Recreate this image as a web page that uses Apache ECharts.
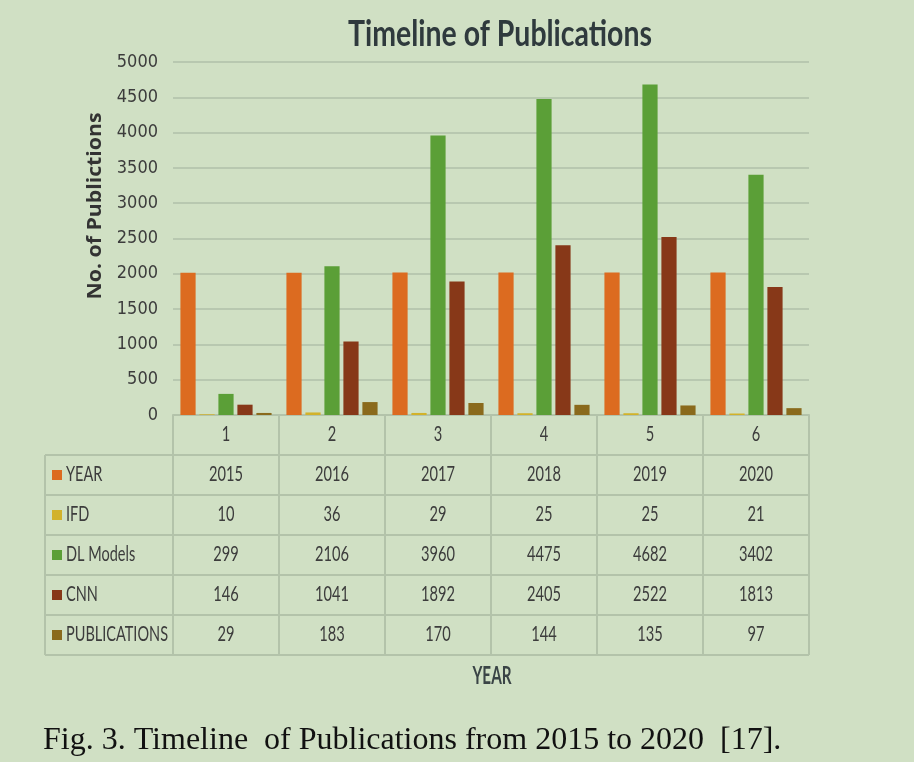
<!DOCTYPE html>
<html>
<head>
<meta charset="utf-8">
<script src="https://cdn.jsdelivr.net/npm/echarts@6/dist/echarts.min.js"></script>
<style>
  html, body { margin: 0; padding: 0; background: #d0e0c4; }
  #chart { width: 914px; height: 762px; }
</style>
</head>
<body>
<div id="chart"></div>
<script>
// data
var categories = ['1', '2', '3', '4', '5', '6'];
var seriesNames = ['YEAR', 'IFD', 'DL Models', 'CNN', 'PUBLICATIONS'];
var yearVals = [2015, 2016, 2017, 2018, 2019, 2020];
var ifdVals = [10, 36, 29, 25, 25, 21];
var dlVals = [299, 2106, 3960, 4475, 4682, 3402];
var cnnVals = [146, 1041, 1892, 2405, 2522, 1813];
var pubVals = [29, 183, 170, 144, 135, 97];
var yTicks = [0, 500, 1000, 1500, 2000, 2500, 3000, 3500, 4000, 4500, 5000];

var allVals = [yearVals, ifdVals, dlVals, cnnVals, pubVals];
var colors = ['#dc6b20', '#d2b22a', '#5b9f37', '#873818', '#8a6a1c'];

var gridLeft = 173, gridTop = 62, gridW = 636, gridH = 353;
var rowH = 40;
var lineCol = '#b3c3aa';
var txtCol = '#3c3c3c';

// the figure uses a narrow font, so squeeze text to the measured widths
var ctx = document.createElement('canvas').getContext('2d');
function squeeze(text, font, w) {
    ctx.font = font;
    return w / ctx.measureText(text).width;
}
var cellFont = '22px Lato, sans-serif';
var cellScale = squeeze('2015', cellFont, 34);
var headFont = '21px Lato, sans-serif';
var headScale = squeeze('PUBLICATIONS', headFont, 102);

var myChart = echarts.init(document.getElementById('chart'));

var series = [];
for (var s = 0; s < seriesNames.length; s++) {
    series.push({
        name: seriesNames[s],
        type: 'bar',
        data: allVals[s],
        barGap: '25%',
        barCategoryGap: '14%',
        itemStyle: { color: colors[s] }
    });
}

myChart.setOption({
    backgroundColor: '#d0e0c4',
    animation: false,
    grid: { left: gridLeft, top: gridTop, width: gridW, height: gridH },
    xAxis: {
        type: 'category',
        data: categories,
        axisLine: { lineStyle: { color: lineCol, width: 2 } },
        axisTick: { show: true, length: rowH * 6, lineStyle: { color: lineCol, width: 2 } },
        axisLabel: { show: false }
    },
    yAxis: {
        type: 'value',
        min: 0, max: 5000, interval: 500,
        axisLabel: {
            margin: 15, fontSize: 18, color: txtCol,
            fontFamily: '"DejaVu Sans Condensed", sans-serif',
            formatter: function (v) { return yTicks.indexOf(v) >= 0 ? String(v) : ''; }
        },
        splitLine: { lineStyle: { color: '#b8c8b0', width: 2 } }
    },
    series: series
});

// table, titles and caption
var graphics = [];
var axisY = gridTop + gridH;
for (var r = 1; r <= 6; r++) {
    var yy = axisY + rowH * r;
    graphics.push({
        type: 'line', silent: true,
        shape: { x1: 45, y1: yy, x2: gridLeft + gridW, y2: yy },
        style: { stroke: lineCol, lineWidth: 2 }
    });
}
graphics.push({
    type: 'line', silent: true,
    shape: { x1: 45, y1: axisY + rowH, x2: 45, y2: axisY + rowH * 6 },
    style: { stroke: lineCol, lineWidth: 2 }
});

for (var j = 0; j < categories.length; j++) {
    var px = myChart.convertToPixel({ xAxisIndex: 0 }, categories[j]);
    var col = [categories[j]];
    for (var k = 0; k < allVals.length; k++) col.push(String(allVals[k][j]));
    for (var m = 0; m < col.length; m++) {
        graphics.push({
            type: 'text', silent: true,
            x: px, y: axisY + rowH * m + rowH / 2 - 1, scaleX: cellScale,
            style: { text: col[m], fill: txtCol, font: cellFont, align: 'center', verticalAlign: 'middle' }
        });
    }
}

for (var i = 0; i < seriesNames.length; i++) {
    var cy = axisY + rowH * (i + 1) + rowH / 2;
    graphics.push({
        type: 'rect', silent: true,
        shape: { x: 52, y: cy - 5, width: 10, height: 10 },
        style: { fill: colors[i] }
    });
    graphics.push({
        type: 'text', silent: true, x: 66, y: cy - 1, scaleX: headScale,
        style: { text: seriesNames[i], fill: txtCol, font: headFont, verticalAlign: 'middle' }
    });
}

var titleFont = 'bold 36px Lato, sans-serif';
graphics.push({
    type: 'text', silent: true, x: 500, y: 34,
    scaleX: squeeze('Timeline of Publications', titleFont, 304),
    style: { text: 'Timeline of Publications', fill: '#2f3a3d', font: titleFont, align: 'center', verticalAlign: 'middle' }
});

var xNameFont = 'bold 25px Lato, sans-serif';
graphics.push({
    type: 'text', silent: true, x: 492, y: 676,
    scaleX: squeeze('YEAR', xNameFont, 39),
    style: { text: 'YEAR', fill: '#3a4446', font: xNameFont, align: 'center', verticalAlign: 'middle' }
});

var yNameFont = 'bold 20px "Open Sans", sans-serif';
graphics.push({
    type: 'text', silent: true, x: 95, y: 206, rotation: Math.PI / 2,
    scaleX: squeeze('No. of Publictions', yNameFont, 187),
    style: { text: 'No. of Publictions', fill: '#333', font: yNameFont, align: 'center', verticalAlign: 'middle' }
});

graphics.push({
    type: 'text', silent: true, x: 43, y: 741,
    style: {
        text: 'Fig. 3. Timeline  of Publications from 2015 to 2020  [17].',
        fill: '#111', font: '32px "Liberation Serif", "Times New Roman", serif', verticalAlign: 'middle'
    }
});

myChart.setOption({ graphic: graphics });
</script>
</body>
</html>
